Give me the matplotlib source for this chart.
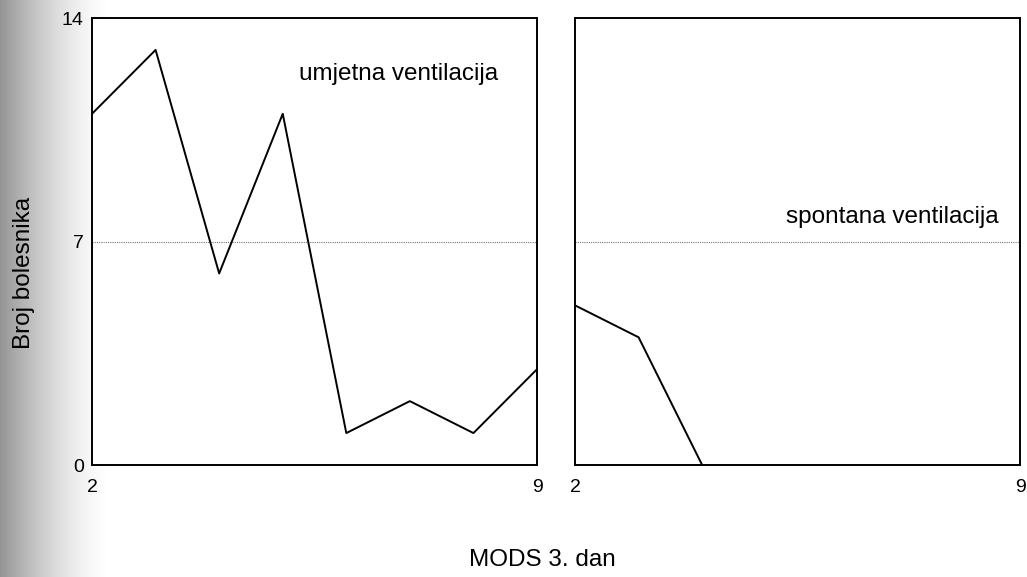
import numpy as np
import matplotlib.pyplot as plt

plt.rcParams['font.family'] = ['Liberation Sans', 'DejaVu Sans']

days = [2, 3, 4, 5, 6, 7, 8, 9]
umjetna = [11, 13, 6, 11, 1, 2, 1, 3]
spontana_x = [2, 3, 4]
spontana = [5, 4, 0]
titles = ['umjetna ventilacija', 'spontana ventilacija']

fig = plt.figure(figsize=(10.27, 5.77), dpi=100)

# scan shadow on the left edge
bg = fig.add_axes([0, 0, 1, 1], zorder=-1)
g = np.linspace(0, 1, 1027)
shade = 1 - 0.42 * np.clip(1 - g / 0.11, 0, 1) ** 1.6
bg.imshow(shade[None, :], cmap='gray', vmin=0, vmax=1, aspect='auto', extent=[0, 1, 0, 1])
bg.axis('off')

ax1 = fig.add_axes([0.0896, 0.1941, 0.4333, 0.7747])
ax2 = fig.add_axes([0.5599, 0.1941, 0.4333, 0.7747])

for ax in (ax1, ax2):
    ax.axhline(7, color='#777777', linestyle=(0, (1, 1)), linewidth=0.8)
    ax.set_xlim(2, 9)
    ax.set_ylim(0, 14)
    ax.set_xticks([2, 9])
    ax.tick_params(axis='x', length=0, labelsize=14, pad=10)
    ax.tick_params(axis='y', length=0, labelsize=14, pad=6)
    for s in ax.spines.values():
        s.set_linewidth(1.4)

ax1.plot(days, umjetna, color='black', linewidth=1.4)
ax2.plot(spontana_x, spontana, color='black', linewidth=1.4)

ax1.set_yticks([0, 7, 14])
ax2.set_yticks([])

ax1.text(0.912, 0.875, titles[0], transform=ax1.transAxes, ha='right', va='center', fontsize=17.5)
ax2.text(0.951, 0.555, titles[1], transform=ax2.transAxes, ha='right', va='center', fontsize=17.5)

fig.text(0.023, 0.527, 'Broj bolesnika', rotation=90, ha='center', va='center', fontsize=17.5)
fig.text(0.528, 0.03, 'MODS 3. dan', ha='center', va='center', fontsize=17.5)

fig.savefig('out.png', dpi=100)
